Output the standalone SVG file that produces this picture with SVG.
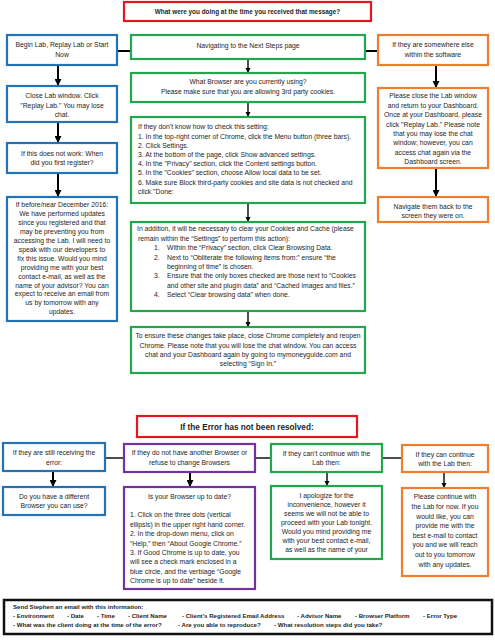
<svg xmlns="http://www.w3.org/2000/svg" width="495" height="640" viewBox="0 0 495 640">
<defs>
<style>
.t{font-family:"Liberation Sans",Arial,sans-serif;font-size:6.8px;fill:#1e1e1e}
.c{text-anchor:middle}
.b{font-weight:bold}
.box{fill:#fff;stroke-width:2.2}
.red{stroke:#e5161f}
.blue{stroke:#2472b3}
.green{stroke:#23a64c}
.orange{stroke:#ee7d2e}
.purple{stroke:#7232a0}
.blk{stroke:#111;stroke-width:2.5}
.con{stroke:#000;stroke-width:2;fill:none}
.thin{stroke:#000;stroke-width:1.4;fill:none}
</style>
<marker id="ah" viewBox="0 0 10 10" refX="10" refY="5" markerWidth="7" markerHeight="7" markerUnits="userSpaceOnUse" orient="auto"><path d="M0,0 L10,5 L0,10 z" fill="#000"/></marker>
<marker id="ahs" viewBox="0 0 10 10" refX="10" refY="5" markerWidth="5.5" markerHeight="5.5" markerUnits="userSpaceOnUse" orient="auto"><path d="M0,0 L10,5 L0,10 z" fill="#000"/></marker>
</defs>
<rect width="495" height="640" fill="#fff"/>

<g id="connectors">
<line class="con" x1="117" y1="51" x2="131" y2="51"/>
<line class="con" x1="365" y1="51" x2="378" y2="51"/>
<line class="con" x1="58" y1="65" x2="58" y2="86" marker-end="url(#ah)"/>
<line class="con" x1="58" y1="122" x2="58" y2="143" marker-end="url(#ah)"/>
<line class="con" x1="58" y1="173" x2="58" y2="197" marker-end="url(#ah)"/>
<line class="thin" x1="248" y1="59" x2="248" y2="73" marker-end="url(#ahs)"/>
<line class="thin" x1="248" y1="102" x2="248" y2="117" marker-end="url(#ahs)"/>
<line class="thin" x1="248" y1="203" x2="248" y2="222" marker-end="url(#ahs)"/>
<line class="thin" x1="248" y1="311" x2="248" y2="327" marker-end="url(#ahs)"/>
<line class="con" x1="436" y1="65" x2="436" y2="88" marker-end="url(#ah)"/>
<line class="con" x1="436" y1="168" x2="436" y2="197" marker-end="url(#ah)"/>
<line class="thin" x1="105" y1="458" x2="124" y2="458"/>
<line class="thin" x1="255" y1="458" x2="271" y2="458"/>
<line class="thin" x1="382" y1="458" x2="402" y2="458"/>
<line class="con" x1="53" y1="471" x2="53" y2="487" marker-end="url(#ah)"/>
<line class="con" x1="190" y1="472" x2="190" y2="487" marker-end="url(#ah)"/>
<line class="thin" x1="327" y1="472" x2="327" y2="486" marker-end="url(#ahs)"/>
<line class="thin" x1="444" y1="472" x2="444" y2="488" marker-end="url(#ahs)"/>
</g>

<g id="title1">
<rect class="box red" x="124" y="2" width="247" height="19"/>
<text class="t c b" x="247.5" y="13.8" style="font-size:6.4px">What were you doing at the time you received that message?</text>
</g>

<g id="begin-lab">
<rect class="box blue" x="7" y="35" width="110" height="30"/>
<text class="t c" x="62" y="47.4">Begin Lab, Replay Lab or Start</text>
<text class="t c" x="62" y="56.6">Now</text>
</g>
<g id="close-lab">
<rect class="box blue" x="7" y="86" width="110" height="36"/>
<text class="t c" x="62" y="98.4">Close Lab window.  Click</text>
<text class="t c" x="62" y="107.6">"Replay Lab."  You may lose</text>
<text class="t c" x="62" y="116.8">chat.</text>
</g>
<g id="not-work">
<rect class="box blue" x="7" y="143" width="110" height="30"/>
<text class="t c" x="62" y="156.2">If this does not work:  When</text>
<text class="t c" x="62" y="165.4">did you first register?</text>
</g>
<g id="before-dec">
<rect class="box blue" x="7" y="197" width="110" height="124"/>
<text class="t c" x="62" y="207.4">If before/near December 2016:</text>
<text class="t c" x="62" y="216.3">We have performed updates</text>
<text class="t c" x="62" y="225.2">since you registered and that</text>
<text class="t c" x="62" y="234.1">may be preventing you from</text>
<text class="t c" x="62" y="243.0">accessing the Lab. I will need to</text>
<text class="t c" x="62" y="251.9">speak with our developers to</text>
<text class="t c" x="62" y="260.8">fix this issue. Would you mind</text>
<text class="t c" x="62" y="269.7">providing me with your best</text>
<text class="t c" x="62" y="278.6">contact e-mail, as well as the</text>
<text class="t c" x="62" y="287.5">name of your advisor? You can</text>
<text class="t c" x="62" y="296.4">expect to receive an email from</text>
<text class="t c" x="62" y="305.3">us by tomorrow with any</text>
<text class="t c" x="62" y="314.2">updates.</text>
</g>

<g id="next-steps">
<rect class="box green" x="131" y="35" width="234" height="24"/>
<text class="t c" x="248" y="48">Navigating to the Next Steps page</text>
</g>
<g id="browser">
<rect class="box green" x="131" y="73" width="234" height="29"/>
<text class="t c" x="248" y="84.4">What Browser are you currently using?</text>
<text class="t c" x="248" y="93.6">Please make sure that you are allowing 3rd party cookies.</text>
</g>
<g id="settings">
<rect class="box green" x="131" y="117" width="234" height="86"/>
<text class="t" x="138" y="129.4">If they don’t know how to check this setting:</text>
<text class="t" x="138" y="138.6">1. In the top-right corner of Chrome, click the Menu button (three bars).</text>
<text class="t" x="138" y="147.8">2. Click Settings.</text>
<text class="t" x="138" y="157.0">3. At the bottom of the page, click Show advanced settings.</text>
<text class="t" x="138" y="166.2">4. In the "Privacy" section, click the Content settings button.</text>
<text class="t" x="138" y="175.4">5. In the "Cookies" section, choose Allow local data to be set.</text>
<text class="t" x="138" y="184.6">6. Make sure Block third-party cookies and site data is not checked and</text>
<text class="t" x="138" y="193.8">click "Done:</text>
</g>
<g id="cookies">
<rect class="box green" x="131" y="222" width="234" height="89"/>
<text class="t" x="137" y="231.4"> In addition, it will be necessary to clear your Cookies and Cache (please</text>
<text class="t" x="138" y="240.8">remain within the “Settings” to perform this action):</text>
<text class="t" x="154" y="250.2">1.</text>
<text class="t" x="167" y="250.2">Within the “Privacy” section, click Clear Browsing Data.</text>
<text class="t" x="154" y="259.6">2.</text>
<text class="t" x="167" y="259.6">Next to “Obliterate the following items from:” ensure “the</text>
<text class="t" x="167" y="269.0">beginning of time” is chosen.</text>
<text class="t" x="154" y="278.4">3.</text>
<text class="t" x="167" y="278.4"> Ensure that the only boxes checked are those next to “Cookies</text>
<text class="t" x="167" y="287.8">and other site and plugin data” and “Cached images and files.”</text>
<text class="t" x="154" y="297.2">4.</text>
<text class="t" x="167" y="297.2">Select “Clear browsing data” when done.</text>
</g>
<g id="reopen">
<rect class="box green" x="131" y="327" width="234" height="46"/>
<text class="t c" x="248" y="338.4">To ensure these changes take place, close Chrome completely and reopen</text>
<text class="t c" x="248" y="347.6">Chrome. Please note that you will lose the chat window. You can access</text>
<text class="t c" x="248" y="356.8">chat and your Dashboard again by going to mymoneyguide.com and</text>
<text class="t c" x="248" y="366.0">selecting “Sign In.”</text>
</g>

<g id="elsewhere">
<rect class="box orange" x="378" y="35" width="110" height="30"/>
<text class="t c" x="433" y="47.4">If they are somewhere else</text>
<text class="t c" x="433" y="56.6">within the software</text>
</g>
<g id="close-window">
<rect class="box orange" x="378" y="88" width="110" height="80"/>
<text class="t c" x="433" y="98.4">Please close the Lab window</text>
<text class="t c" x="433" y="107.8">and return to your Dashboard.</text>
<text class="t c" x="433" y="117.2">Once at your Dashboard, please</text>
<text class="t c" x="433" y="126.6">click "Replay Lab." Please note</text>
<text class="t c" x="433" y="136.0">that you may lose the chat</text>
<text class="t c" x="433" y="145.4">window; however, you can</text>
<text class="t c" x="433" y="154.8">access chat again via the</text>
<text class="t c" x="433" y="164.2">Dashboard screen.</text>
</g>
<g id="navigate-back">
<rect class="box orange" x="378" y="197" width="110" height="25"/>
<text class="t c" x="433" y="209.2">Navigate them back to the</text>
<text class="t c" x="433" y="218.4">screen they were on.</text>
</g>

<g id="title2">
<rect class="box red" x="137" y="416" width="220" height="21"/>
<text class="t c b" x="247" y="429.8" style="font-size:8.2px">If the Error has not been resolved:</text>
</g>

<g id="still-receiving">
<rect class="box blue" x="3" y="443" width="102" height="28"/>
<text class="t c" x="54" y="455.4">If they are still receiving the</text>
<text class="t c" x="54" y="464.8">error:</text>
</g>
<g id="different-browser">
<rect class="box blue" x="3" y="487" width="102" height="28"/>
<text class="t c" x="54" y="499.4">Do you have a different</text>
<text class="t c" x="54" y="508.4">Browser you can use?</text>
</g>
<g id="no-other-browser">
<rect class="box purple" x="124" y="444" width="131" height="28"/>
<text class="t c" x="189.5" y="455.4">If they do not have another Browser or</text>
<text class="t c" x="189.5" y="464.8">refuse to change Browsers</text>
</g>
<g id="up-to-date">
<rect class="box purple" x="124" y="487" width="131" height="102"/>
<text class="t c" x="189.5" y="499.4">Is your Browser up to date?</text>
<text class="t" x="130" y="517.4">1. Click on the three dots (vertical</text>
<text class="t" x="130" y="526.8">ellipsis) in the upper right hand corner.</text>
<text class="t" x="130" y="536.2">2. In the drop-down menu, click on</text>
<text class="t" x="130" y="545.6">“Help,” then “About Google Chrome.”</text>
<text class="t" x="130" y="555.0">3. If Good Chrome is up to date, you</text>
<text class="t" x="130" y="564.4">will see a check mark enclosed in a</text>
<text class="t" x="130" y="573.8">blue circle, and the verbiage “Google</text>
<text class="t" x="130" y="583.2">Chrome is up to date” beside it.</text>
</g>
<g id="cant-continue">
<rect class="box green" x="271" y="444" width="111" height="28"/>
<text class="t c" x="326.5" y="456.4">If they can’t continue with the</text>
<text class="t c" x="326.5" y="465.4">Lab then:</text>
</g>
<g id="apologize">
<rect class="box green" x="271" y="486" width="111" height="73"/>
<text class="t c" x="326.5" y="498.4">I apologize for the</text>
<text class="t c" x="326.5" y="507.3">inconvenience, however it</text>
<text class="t c" x="326.5" y="516.2">seems we will not be able to</text>
<text class="t c" x="326.5" y="525.1">proceed with your Lab tonight.</text>
<text class="t c" x="326.5" y="534.0">Would you mind providing me</text>
<text class="t c" x="326.5" y="542.9">with your best contact e-mail,</text>
<text class="t c" x="326.5" y="551.8">as well as the name of your</text>
</g>
<g id="can-continue">
<rect class="box orange" x="402" y="445" width="86" height="27"/>
<text class="t c" x="445" y="457.4">If they can continue</text>
<text class="t c" x="445" y="466.4">with the Lab then:</text>
</g>
<g id="continue-lab">
<rect class="box orange" x="402" y="488" width="86" height="88"/>
<text class="t c" x="445" y="499.4">Please continue with</text>
<text class="t c" x="445" y="509.0">the Lab for now. If you</text>
<text class="t c" x="445" y="518.6">would like, you can</text>
<text class="t c" x="445" y="528.2">provide me with the</text>
<text class="t c" x="445" y="537.8">best e-mail to contact</text>
<text class="t c" x="445" y="547.4">you and we will reach</text>
<text class="t c" x="445" y="557.0">out to you tomorrow</text>
<text class="t c" x="445" y="566.6">with any updates.</text>
</g>

<g id="email-info">
<rect class="box blk" x="4" y="600" width="488" height="34" fill="#fff"/>
<g class="t b" style="font-size:6.1px">
<text x="13" y="609">Send Stephen an email with this information:</text>
<text x="13" y="618">- Environment</text>
<text x="67" y="618">- Date</text>
<text x="97" y="618">- Time</text>
<text x="128" y="618">- Client Name</text>
<text x="182" y="618">- Client’s Registered Email Address</text>
<text x="297" y="618">- Advisor Name</text>
<text x="355" y="618">- Browser Platform</text>
<text x="423" y="618">- Error Type</text>
<text x="13" y="627">- What was the client doing at the time of the error?</text>
<text x="178" y="627">- Are you able to reproduce?</text>
<text x="274" y="627">- What resolution steps did you take?</text>
</g>
</g>
</svg>
